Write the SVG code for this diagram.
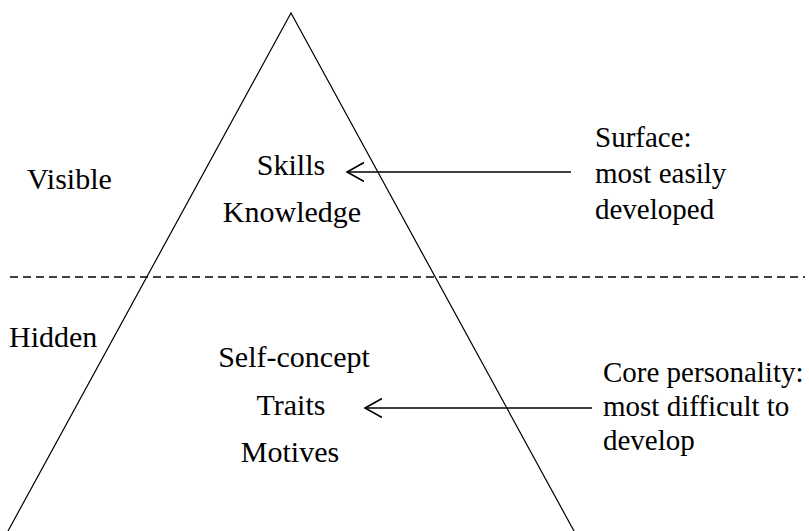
<svg xmlns="http://www.w3.org/2000/svg" width="809" height="531" viewBox="0 0 809 531">
  <style>
    text { font-family: 'Liberation Serif', 'Times New Roman', serif; font-size: 30px; fill: #000; }
    .note { font-size: 29px; }
    .c { text-anchor: middle; }
    .edge { stroke: #000; fill: none; }
  </style>
  <defs>
    <!-- open chevron arrowhead, tip at the line end -->
    <marker id="open" markerWidth="20" markerHeight="22" refX="17" refY="10" orient="auto" markerUnits="userSpaceOnUse">
      <path d="M0,0.5 L17,10 L0,19.5" fill="none" stroke="#000" stroke-width="1.6"/>
    </marker>
  </defs>
  <rect width="809" height="531" fill="#fff"/>

  <g id="pyramid">
    <polyline class="edge" stroke-width="1.2" points="8,531 291,13 574,531"/>
  </g>

  <g id="divider">
    <line class="edge" x1="10" y1="277" x2="805" y2="277" stroke-width="1.5" stroke-dasharray="8,5"/>
  </g>

  <g id="visible-label"><text x="27" y="189">Visible</text></g>
  <g id="hidden-label"><text x="9" y="347">Hidden</text></g>

  <g id="surface-items">
    <text class="c" x="291" y="175">Skills</text>
    <text class="c" x="292" y="222">Knowledge</text>
  </g>

  <g id="core-items">
    <text class="c" x="294" y="367">Self-concept</text>
    <text class="c" x="291" y="415">Traits</text>
    <text class="c" x="290" y="462">Motives</text>
  </g>

  <g id="surface-note">
    <text class="note" x="595" y="147">Surface:</text>
    <text class="note" x="595" y="183">most easily</text>
    <text class="note" x="595" y="219">developed</text>
  </g>

  <g id="core-note">
    <text class="note" x="603" y="382">Core personality:</text>
    <text class="note" x="603" y="416">most difficult to</text>
    <text class="note" x="603" y="450">develop</text>
  </g>

  <g id="connectors">
    <line class="edge" x1="571" y1="172" x2="347" y2="172" stroke-width="1.5" marker-end="url(#open)"/>
    <line class="edge" x1="592" y1="408" x2="365" y2="408" stroke-width="1.5" marker-end="url(#open)"/>
  </g>
</svg>
